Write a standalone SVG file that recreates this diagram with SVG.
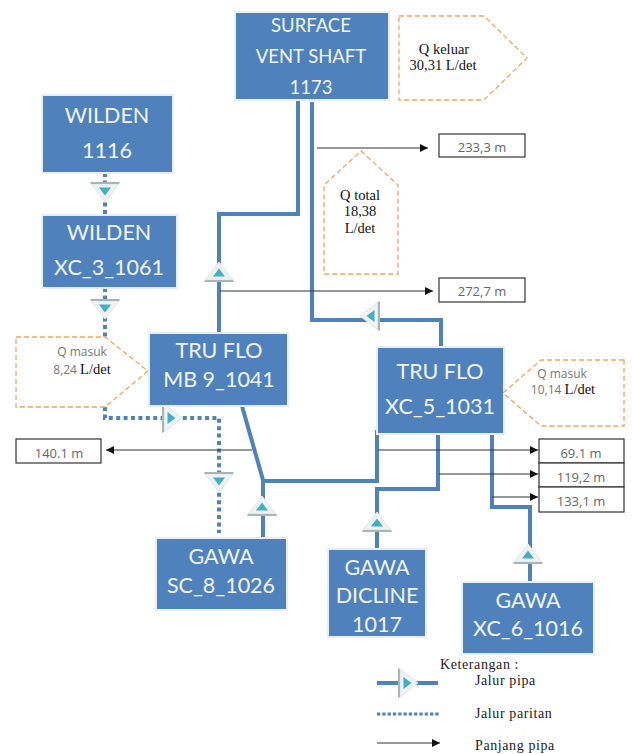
<svg xmlns="http://www.w3.org/2000/svg" xmlns:xlink="http://www.w3.org/1999/xlink" width="632" height="754" viewBox="0 0 632 754">
<style>
.n{fill:#4f81bd;stroke:#e9eef5;stroke-width:2}
.t{font-family:"Lato","Open Sans",sans-serif;font-size:21.5px;fill:#f2f5fa;text-anchor:middle}
.t2{font-size:18.5px}
.pipe{fill:none;stroke:#4f81bd;stroke-width:4}
.dot{fill:none;stroke:#4f81bd;stroke-width:4;stroke-dasharray:4 3.4}
.dot2{fill:none;stroke:#4f81bd;stroke-width:3;stroke-dasharray:3.3 2}
.len{fill:none;stroke:#333;stroke-width:1.2;marker-end:url(#ah)}
.q{fill:#fff;stroke:#f4a460;stroke-width:1.3;stroke-dasharray:5 3}
.b{fill:#fff;stroke:#333;stroke-width:1.2}
.bt{font-family:"Open Sans",sans-serif;font-size:13px;fill:#666;text-anchor:middle}
.s{font-family:"Liberation Serif",serif;font-size:14.5px;fill:#111;text-anchor:middle}
.g{font-family:"Open Sans",sans-serif;font-size:12px;fill:#777;text-anchor:middle}
.g2{font-family:"Open Sans",sans-serif;font-size:12px;fill:#777}
.s2{font-family:"Liberation Serif",serif;font-size:14.5px;fill:#111}
.l{font-family:"Liberation Serif",serif;font-size:14px;letter-spacing:.6px;fill:#222}
</style>
<defs>
<marker id="ah" markerUnits="userSpaceOnUse" markerWidth="9" markerHeight="8" refX="8" refY="4" orient="auto"><path d="M0 0L8 4L0 8Z" fill="#111"/></marker>
<g id="tri">
<path d="M0-10L14 8L-14 8Z" fill="#eef2f2" stroke="#dfe6e6" stroke-width="1"/>
<path d="M-14 8L14 8L15 10L-15 10Z" fill="#a9b5b5"/>
<path d="M0-3.5L6 4.5L-6 4.5Z" fill="#3fb0c6"/>
</g>
</defs>
<g id="connectors">
<path class="dot" d="M105 173V215"/>
<path class="dot" d="M105 288V337"/>
<path class="dot" d="M105 407V418H219V533"/>
<path class="pipe" d="M298 100V214H219V333"/>
<path class="pipe" d="M312 102V320H441V347"/>
<path class="pipe" d="M242 406L263 480V537"/>
<path class="pipe" d="M263 481H377V430"/>
<path class="pipe" d="M438 434V489H377V549"/>
<path class="pipe" d="M492 434V507H530V582"/>
<path class="len" d="M317 148H428"/>
<path class="len" d="M220 291H433"/>
<path class="len" d="M252 450H106"/>
<path class="len" d="M378 450H538"/>
<path class="len" d="M439 474H538"/>
<path class="len" d="M492 497H538"/>
<use xlink:href="#tri" transform="translate(105 192) rotate(180)"/>
<use xlink:href="#tri" transform="translate(105 309) rotate(180)"/>
<use xlink:href="#tri" transform="translate(219 482) rotate(180)"/>
<use xlink:href="#tri" transform="translate(219 272)"/>
<use xlink:href="#tri" transform="translate(262 506)"/>
<use xlink:href="#tri" transform="translate(377 522)"/>
<use xlink:href="#tri" transform="translate(528 554)"/>
<use xlink:href="#tri" transform="translate(172 418) rotate(90)"/>
<use xlink:href="#tri" transform="translate(370 316) rotate(-90)"/>
</g>
<g id="surface"><rect class="n" x="235" y="12" width="154" height="88"/><text class="t t2" x="311" y="32">SURFACE</text><text class="t t2" x="311" y="63">VENT SHAFT</text><text class="t t2" x="311" y="94">1173</text></g>
<g id="wilden1116"><rect class="n" x="42" y="95" width="131" height="78"/><text class="t" x="107" y="123">WILDEN</text><text class="t" x="107" y="158">1116</text></g>
<g id="wilden1061"><rect class="n" x="42" y="215" width="135" height="73"/><text class="t" x="109" y="240">WILDEN</text><text class="t" x="109" y="275">XC_3_1061</text></g>
<g id="truflo1041"><rect class="n" x="149" y="333" width="139" height="73"/><text class="t" x="219" y="358">TRU FLO</text><text class="t" x="219" y="387">MB 9_1041</text></g>
<g id="truflo1031"><rect class="n" x="377" y="347" width="127" height="87"/><text class="t" x="440" y="379">TRU FLO</text><text class="t" x="440" y="414">XC_5_1031</text></g>
<g id="gawa1026"><rect class="n" x="156" y="538" width="131" height="72"/><text class="t" x="221" y="564">GAWA</text><text class="t" x="221" y="593">SC_8_1026</text></g>
<g id="gawa1017"><rect class="n" x="328" y="549" width="98" height="88"/><text class="t" x="377" y="575">GAWA</text><text class="t" x="377" y="603">DICLINE</text><text class="t" x="377" y="632">1017</text></g>
<g id="gawa1016"><rect class="n" x="462" y="582" width="132" height="72"/><text class="t" x="528" y="608">GAWA</text><text class="t" x="528" y="636">XC_6_1016</text></g>
<g id="q-keluar"><path class="q" d="M399 16H484L527 58L484 100H399Z"/><text class="s" x="444" y="54">Q keluar</text><text class="s" x="443" y="70">30,31 L/det</text></g>
<g id="q-total"><path class="q" d="M361 151L398 185V274H324V185Z"/><text class="s" x="360" y="200">Q total</text><text class="s" x="360" y="216">18,38</text><text class="s" x="360" y="233">L/det</text></g>
<g id="q-masuk-1"><path class="q" d="M16 337H105L148 371L105 407H16Z"/><text class="g" x="82" y="356">Q masuk</text><text x="82" y="374" text-anchor="middle"><tspan class="g2">8,24 </tspan><tspan class="s2">L/det</tspan></text></g>
<g id="q-masuk-2"><path class="q" d="M624 360H541L503 393L541 426H624Z"/><text class="g" x="562" y="378">Q masuk</text><text x="563" y="394" text-anchor="middle"><tspan class="g2">10,14 </tspan><tspan class="s2">L/det</tspan></text></g>
<g id="len-233"><rect class="b" x="439" y="134" width="86" height="23"/><text class="bt" x="482" y="152">233,3 m</text></g>
<g id="len-272"><rect class="b" x="439" y="278" width="86" height="24"/><text class="bt" x="482" y="296">272,7 m</text></g>
<g id="len-140"><rect class="b" x="16" y="439" width="85" height="24"/><text class="bt" x="59" y="458">140.1 m</text></g>
<g id="len-69"><rect class="b" x="539" y="439" width="85" height="24"/><text class="bt" x="581" y="458">69.1 m</text></g>
<g id="len-119"><rect class="b" x="539" y="463" width="85" height="24"/><text class="bt" x="581" y="482">119,2 m</text></g>
<g id="len-133"><rect class="b" x="539" y="487" width="85" height="25"/><text class="bt" x="581" y="506">133,1 m</text></g>
<g id="legend">
<text class="l" x="440" y="669">Keterangan :</text>
<path class="pipe" d="M377 683H438"/>
<use xlink:href="#tri" transform="translate(408 683) rotate(90)"/>
<text class="l" x="475" y="685">Jalur pipa</text>
<path class="dot2" d="M377 714H440"/>
<text class="l" x="475" y="718">Jalur paritan</text>
<path class="len" d="M377 743H440"/>
<text class="l" x="475" y="750">Panjang pipa</text>
</g>
</svg>
